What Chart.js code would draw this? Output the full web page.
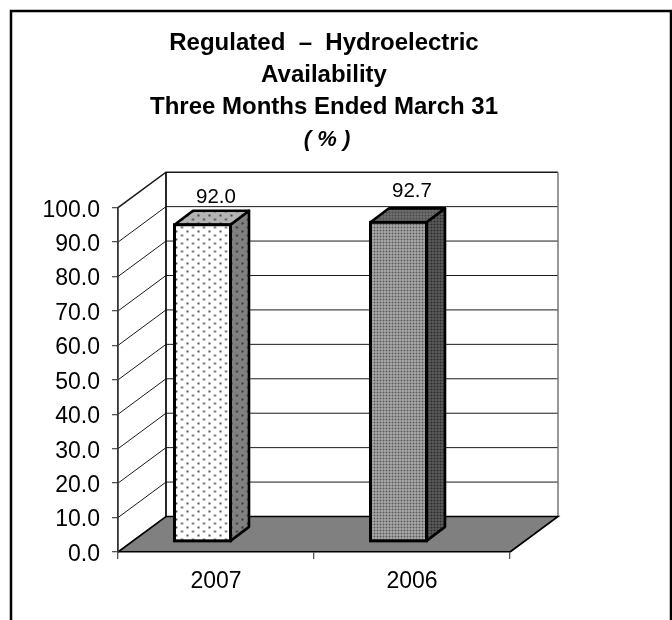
<!DOCTYPE html>
<html>
<head>
<meta charset="utf-8">
<style>html,body{margin:0;padding:0;background:#fff}canvas{display:block}</style>
<script src="https://cdn.jsdelivr.net/npm/chart.js@4"></script>
</head>
<body>
<canvas id="c" width="672" height="620"></canvas>
<script>
const categories = ["2007", "2006"];
const availability = [92.0, 92.7];
const yTickStep = 10;
const yMax = 100;
const titleLines = ["Regulated  \u2013  Hydroelectric", "Availability", "Three Months Ended March 31"];
const subtitleText = " ( % )";

const FONT = "'Liberation Sans', Arial, sans-serif";
const WALL = {dx: 48, dy: -35.5};
const BAR3D = {dx: 18.5, dy: -14, shiftX: -13.5, shiftY: -10.5};
const LABEL_LIFT = [32.5, 35.5];

function dotted(bg, dot) {
  const t = document.createElement('canvas'); t.width = 11; t.height = 8;
  const g = t.getContext('2d');
  g.fillStyle = bg; g.fillRect(0, 0, 11, 8);
  g.fillStyle = dot;
  g.fillRect(2, 1, 2, 2); g.fillRect(7.5, 5, 2, 2);
  return g.createPattern(t, 'repeat');
}
function fine(light, dark) {
  const t = document.createElement('canvas'); t.width = 3; t.height = 3;
  const g = t.getContext('2d');
  g.fillStyle = light; g.fillRect(0, 0, 3, 3);
  g.fillStyle = dark; g.fillRect(0, 0, 2, 2);
  return g.createPattern(t, 'repeat');
}
const frontFill = [dotted('#ffffff', '#555555'), fine('#bcbcbc', '#585858')];
const topFill = [dotted('#b4b4b4', '#444444'), fine('#777777', '#484848')];
const sideFill = [dotted('#808080', '#333333'), fine('#666666', '#2a2a2a')];

function line(ctx, pts, color, w) {
  ctx.beginPath();
  pts.forEach((p, i) => i ? ctx.lineTo(p[0], p[1]) : ctx.moveTo(p[0], p[1]));
  ctx.strokeStyle = color; ctx.lineWidth = w; ctx.stroke();
}

const scene = {
  id: 'scene',
  beforeDraw(chart) {
    const ctx = chart.ctx, a = chart.chartArea, y = chart.scales.y;
    const d = WALL, B = y.getPixelForValue(0), T = y.getPixelForValue(yMax);
    ctx.save();
    ctx.fillStyle = '#fff'; ctx.fillRect(0, 0, chart.width, chart.height);
    line(ctx, [[11, 720], [11, 11], [671, 11], [671, 720]], '#000', 2.5);
    for (let v = yTickStep; v <= yMax; v += yTickStep) {
      const py = y.getPixelForValue(v);
      line(ctx, [[a.left, py], [a.left + d.dx, py + d.dy], [a.right + d.dx, py + d.dy]], '#1a1a1a', v === yMax ? 1.6 : 1);
    }
    line(ctx, [[a.left + d.dx, B + d.dy], [a.left + d.dx, T + d.dy]], '#111', 1.8);
    line(ctx, [[a.right + d.dx, B + d.dy], [a.right + d.dx, T + d.dy]], '#777', 1.5);
    ctx.beginPath();
    ctx.moveTo(a.left, B); ctx.lineTo(a.right, B);
    ctx.lineTo(a.right + d.dx, B + d.dy); ctx.lineTo(a.left + d.dx, B + d.dy);
    ctx.closePath();
    ctx.fillStyle = '#808080'; ctx.fill();
    line(ctx, [[a.left, B], [a.left + d.dx, B + d.dy], [a.right + d.dx, B + d.dy], [a.right, B]], '#000', 1.6);
    ctx.restore();
  },
  beforeDatasetDraw(chart, args) {
    const ctx = chart.ctx, b3 = BAR3D;
    ctx.save();
    ctx.translate(b3.shiftX, b3.shiftY);
    args.meta.data.forEach((el, i) => {
      const p = el.getProps(['x', 'y', 'base', 'width'], true);
      const L = p.x - p.width / 2, R = p.x + p.width / 2, Tp = p.y, Bt = p.base;
      const poly = (pts, fill) => {
        ctx.beginPath();
        pts.forEach((q, k) => k ? ctx.lineTo(q[0], q[1]) : ctx.moveTo(q[0], q[1]));
        ctx.closePath();
        ctx.fillStyle = fill; ctx.fill();
        ctx.strokeStyle = '#000'; ctx.lineWidth = 2.6; ctx.lineJoin = 'round'; ctx.stroke();
      };
      poly([[R, Tp], [R + b3.dx, Tp + b3.dy], [R + b3.dx, Bt + b3.dy], [R, Bt]], sideFill[i]);
      poly([[L, Tp], [L + b3.dx, Tp + b3.dy], [R + b3.dx, Tp + b3.dy], [R, Tp]], topFill[i]);
    });
  },
  afterDatasetDraw(chart, args) {
    const ctx = chart.ctx;
    args.meta.data.forEach(el => {
      const p = el.getProps(['x', 'y', 'base', 'width'], true);
      ctx.strokeStyle = '#000'; ctx.lineWidth = 3; ctx.lineJoin = 'miter';
      ctx.strokeRect(p.x - p.width / 2, p.y, p.width, p.base - p.y);
    });
    ctx.restore();
    ctx.save();
    ctx.fillStyle = '#000'; ctx.font = '20.5px ' + FONT;
    ctx.textAlign = 'center'; ctx.textBaseline = 'alphabetic';
    args.meta.data.forEach((el, i) => {
      ctx.fillText(availability[i].toFixed(1), el.x, chart.scales.y.getPixelForValue(availability[i]) - LABEL_LIFT[i]);
    });
    ctx.restore();
  }
};

new Chart(document.getElementById('c'), {
  type: 'bar',
  data: {
    labels: categories,
    datasets: [{
      data: availability,
      backgroundColor: frontFill,
      borderWidth: 0,
      barThickness: 56,
      clip: false
    }]
  },
  plugins: [scene],
  options: {
    responsive: false,
    devicePixelRatio: 1,
    animation: false,
    layout: {padding: {left: 0, right: 24, top: 0, bottom: 0}},
    plugins: {
      legend: {display: false},
      tooltip: {enabled: false},
      title: {
        display: true,
        text: titleLines,
        color: '#000',
        font: {family: FONT, size: 24, weight: 'bold', lineHeight: 1.3333},
        padding: {top: 27.5, bottom: 0}
      },
      subtitle: {
        display: true,
        text: subtitleText,
        color: '#000',
        font: {family: FONT, size: 22, weight: 'bold', style: 'italic', lineHeight: 1.4545},
        padding: {top: 0, bottom: 52.2}
      }
    },
    scales: {
      x: {
        type: 'category',
        afterFit(s) { s.height = 68; },
        grid: {display: true, drawOnChartArea: false, drawTicks: true, tickLength: 7, color: '#555', lineWidth: 1.3},
        border: {display: true, color: '#000', width: 1.6},
        ticks: {color: '#000', padding: 9, maxRotation: 0, font: {family: FONT, size: 23}}
      },
      y: {
        type: 'linear',
        min: 0,
        max: yMax,
        afterFit(s) { s.width = 118; },
        grid: {display: true, drawOnChartArea: false, drawTicks: true, tickLength: 6, color: '#555', lineWidth: 1.3},
        border: {display: true, color: '#333', width: 1.8},
        ticks: {color: '#000', padding: 12, labelOffset: 2.5, stepSize: yTickStep, font: {family: FONT, size: 23},
                callback: v => v.toFixed(1)}
      },
      spacer: {
        type: 'linear',
        position: 'right',
        min: 0,
        max: 1,
        afterFit(s) { s.width = 138; },
        grid: {display: false},
        border: {display: false},
        ticks: {display: false}
      }
    }
  }
});
</script>
</body>
</html>
